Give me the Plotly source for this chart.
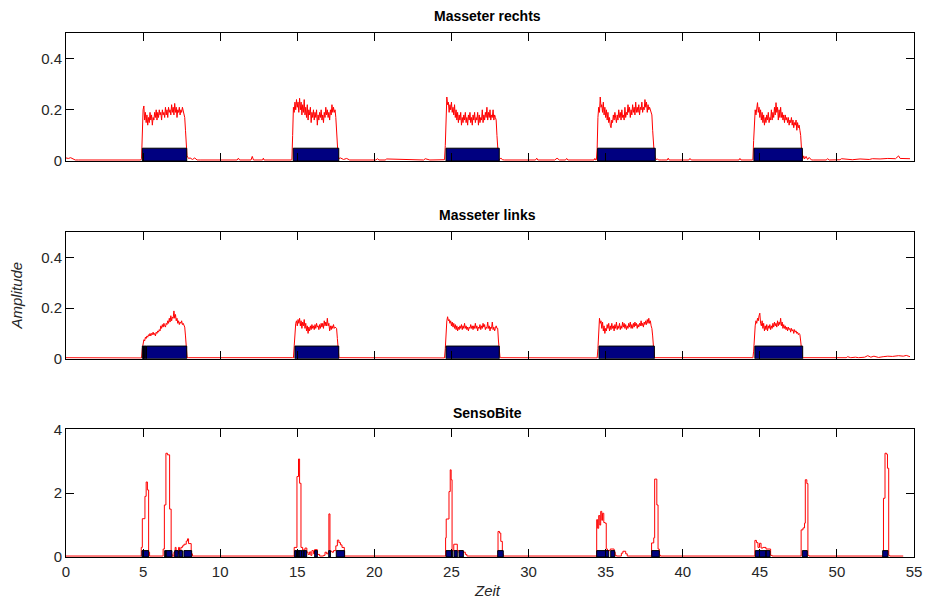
import numpy as np
import plotly.graph_objects as go

# ---------------------------------------------------------------------------
# Recorded signals (amplitude over time in seconds)
# ---------------------------------------------------------------------------
DT = 0.05  # sample spacing inside the bite bursts

# Masseter rechts: burst onsets and sampled amplitudes
rechts_burst_start = [4.90, 14.65, 24.55, 34.40, 44.55]
rechts_bursts = [
    [0.01, 0.12, 0.20, 0.215, 0.16, 0.19, 0.15, 0.18, 0.14, 0.17,
     0.15, 0.19, 0.16, 0.18, 0.14, 0.17, 0.16, 0.19, 0.17, 0.20,
     0.16, 0.19, 0.17, 0.20, 0.18, 0.19, 0.16, 0.20, 0.18, 0.19,
     0.17, 0.21, 0.18, 0.20, 0.17, 0.21, 0.19, 0.20, 0.18, 0.22,
     0.19, 0.21, 0.18, 0.225, 0.19, 0.21, 0.17, 0.20, 0.19, 0.21,
     0.18, 0.20, 0.19, 0.21, 0.20, 0.19, 0.17, 0.12, 0.06, 0.02,
     0.015, 0.01],
    [0.005, 0.10, 0.21, 0.19, 0.23, 0.20, 0.24, 0.21, 0.23, 0.19,
     0.245, 0.20, 0.23, 0.18, 0.22, 0.19, 0.24, 0.18, 0.21, 0.17,
     0.22, 0.16, 0.20, 0.18, 0.21, 0.15, 0.19, 0.17, 0.20, 0.16,
     0.19, 0.17, 0.20, 0.14, 0.18, 0.16, 0.19, 0.17, 0.20, 0.16,
     0.18, 0.15, 0.19, 0.17, 0.21, 0.18, 0.20, 0.17, 0.19, 0.16,
     0.20, 0.18, 0.22, 0.19, 0.21, 0.19, 0.20, 0.17, 0.10, 0.04,
     0.015, 0.01],
    [0.005, 0.06, 0.18, 0.25, 0.22, 0.23, 0.19, 0.22, 0.20, 0.23,
     0.19, 0.21, 0.18, 0.22, 0.17, 0.20, 0.16, 0.19, 0.15, 0.18,
     0.16, 0.19, 0.14, 0.17, 0.15, 0.18, 0.16, 0.19, 0.15, 0.17,
     0.14, 0.18, 0.16, 0.19, 0.15, 0.17, 0.14, 0.18, 0.16, 0.19,
     0.15, 0.17, 0.16, 0.19, 0.14, 0.18, 0.15, 0.17, 0.16, 0.20,
     0.15, 0.18, 0.16, 0.19, 0.17, 0.21, 0.16, 0.19, 0.17, 0.20,
     0.16, 0.18, 0.17, 0.20, 0.16, 0.18, 0.17, 0.16, 0.10, 0.04,
     0.01, 0.005],
    [0.005, 0.05, 0.17, 0.21, 0.19, 0.25, 0.21, 0.22, 0.19, 0.23,
     0.18, 0.21, 0.17, 0.20, 0.16, 0.19, 0.15, 0.17, 0.14, 0.13,
     0.16, 0.15, 0.18, 0.16, 0.19, 0.17, 0.15, 0.18, 0.16, 0.20,
     0.17, 0.19, 0.16, 0.20, 0.17, 0.18, 0.16, 0.21, 0.17, 0.19,
     0.18, 0.22, 0.19, 0.21, 0.17, 0.20, 0.18, 0.22, 0.19, 0.21,
     0.18, 0.23, 0.19, 0.21, 0.19, 0.22, 0.18, 0.21, 0.20, 0.23,
     0.19, 0.21, 0.20, 0.24, 0.21, 0.23, 0.19, 0.22, 0.20, 0.21,
     0.20, 0.20, 0.18, 0.12, 0.06, 0.03, 0.015, 0.01, 0.005],
    [0.005, 0.08, 0.17, 0.20, 0.18, 0.22, 0.228, 0.19, 0.21, 0.17,
     0.20, 0.16, 0.19, 0.15, 0.18, 0.14, 0.17, 0.15, 0.18, 0.16,
     0.19, 0.15, 0.17, 0.16, 0.20, 0.16, 0.19, 0.17, 0.21, 0.18,
     0.228, 0.19, 0.21, 0.16, 0.20, 0.17, 0.21, 0.17, 0.19, 0.16,
     0.18, 0.15, 0.18, 0.16, 0.17, 0.15, 0.17, 0.14, 0.16, 0.15,
     0.17, 0.14, 0.16, 0.13, 0.15, 0.14, 0.16, 0.12, 0.15, 0.13,
     0.14, 0.12, 0.10, 0.05, 0.02, 0.01],
]
# Masseter rechts: resting activity between bursts
rechts_rest_t = [0.0, 0.15, 0.3, 0.45, 0.6, 0.8, 4.85,
                 8.05, 8.2, 8.35, 8.5, 8.7, 11.1, 11.18, 11.26, 12.0, 12.08,
                 12.16, 12.75, 12.8, 12.85, 14.6,
                 17.8, 18.0, 18.2, 18.4, 20.1, 20.2, 20.3, 20.7, 20.8, 23.2,
                 23.3, 23.6, 24.5,
                 28.2, 28.3, 28.45, 30.45, 30.53, 30.6, 31.7, 31.85, 32.0,
                 32.4, 32.47, 32.55, 34.25, 34.3, 34.35,
                 38.35, 38.45, 38.6, 39.0, 39.06, 39.12, 40.4, 40.47, 40.55,
                 43.65, 43.71, 43.78, 44.5,
                 47.85, 47.9, 48.0, 48.1, 48.2, 48.35, 48.5, 49.3, 49.4, 49.5,
                 50.2, 50.3, 51.0, 51.5, 52.1, 52.3, 52.8, 53.3, 53.8, 54.0,
                 54.1, 54.3, 54.74]
rechts_rest_v = [0.012, 0.010, 0.013, 0.008, 0.004, 0.004, 0.004,
                 0.012, 0.006, 0.012, 0.004, 0.004, 0.004, 0.011, 0.004, 0.004, 0.018,
                 0.004, 0.004, 0.011, 0.004, 0.004,
                 0.012, 0.006, 0.010, 0.004, 0.004, 0.009, 0.004, 0.004, 0.008, 0.004,
                 0.009, 0.004, 0.004,
                 0.012, 0.005, 0.004, 0.004, 0.011, 0.004, 0.004, 0.011, 0.004,
                 0.004, 0.010, 0.004, 0.004, 0.010, 0.004,
                 0.008, 0.004, 0.004, 0.004, 0.011, 0.004, 0.004, 0.010, 0.004,
                 0.004, 0.010, 0.004, 0.004,
                 0.020, 0.008, 0.018, 0.006, 0.014, 0.004, 0.004, 0.004, 0.009, 0.004,
                 0.005, 0.009, 0.005, 0.008, 0.006, 0.009, 0.008, 0.010, 0.009, 0.020,
                 0.010, 0.009, 0.009]

# Masseter links
links_burst_start = [4.90, 14.75, 24.55, 34.45, 44.55]
links_bursts = [
    [0.003, 0.04, 0.06, 0.075, 0.07, 0.085, 0.08, 0.09, 0.085, 0.095,
     0.09, 0.10, 0.09, 0.10, 0.095, 0.105, 0.095, 0.10, 0.09, 0.105,
     0.10, 0.11, 0.105, 0.115, 0.11, 0.13, 0.12, 0.135, 0.125, 0.14,
     0.13, 0.125, 0.14, 0.135, 0.15, 0.14, 0.16, 0.145, 0.17, 0.15,
     0.165, 0.16, 0.189, 0.16, 0.175, 0.15, 0.16, 0.14, 0.15, 0.135,
     0.145, 0.14, 0.15, 0.135, 0.14, 0.13, 0.125, 0.09, 0.04, 0.01,
     0.003],
    [0.003, 0.05, 0.12, 0.14, 0.15, 0.13, 0.155, 0.14, 0.16, 0.13,
     0.15, 0.12, 0.145, 0.13, 0.155, 0.12, 0.14, 0.11, 0.13, 0.10,
     0.125, 0.11, 0.13, 0.115, 0.135, 0.12, 0.13, 0.115, 0.135, 0.12,
     0.14, 0.125, 0.13, 0.115, 0.135, 0.12, 0.14, 0.125, 0.14, 0.12,
     0.15, 0.13, 0.145, 0.13, 0.16, 0.13, 0.14, 0.11, 0.13, 0.115,
     0.13, 0.12, 0.135, 0.12, 0.125, 0.12, 0.12, 0.08, 0.03, 0.005],
    [0.003, 0.04, 0.12, 0.15, 0.166, 0.15, 0.155, 0.14, 0.15, 0.13,
     0.145, 0.125, 0.14, 0.12, 0.135, 0.115, 0.13, 0.11, 0.125, 0.115,
     0.13, 0.12, 0.135, 0.115, 0.13, 0.12, 0.14, 0.12, 0.13, 0.115,
     0.125, 0.11, 0.125, 0.12, 0.135, 0.12, 0.13, 0.115, 0.13, 0.12,
     0.14, 0.12, 0.13, 0.11, 0.125, 0.12, 0.135, 0.115, 0.13, 0.12,
     0.14, 0.125, 0.135, 0.115, 0.125, 0.12, 0.145, 0.12, 0.13, 0.11,
     0.125, 0.12, 0.145, 0.115, 0.125, 0.11, 0.12, 0.13, 0.12, 0.12,
     0.07, 0.02, 0.005],
    [0.003, 0.04, 0.12, 0.16, 0.14, 0.15, 0.12, 0.145, 0.11, 0.13,
     0.10, 0.12, 0.11, 0.135, 0.12, 0.14, 0.11, 0.13, 0.115, 0.14,
     0.12, 0.13, 0.11, 0.135, 0.12, 0.145, 0.115, 0.13, 0.12, 0.14,
     0.115, 0.13, 0.12, 0.145, 0.125, 0.14, 0.12, 0.135, 0.115, 0.13,
     0.12, 0.14, 0.125, 0.145, 0.12, 0.135, 0.12, 0.14, 0.125, 0.145,
     0.13, 0.14, 0.12, 0.135, 0.125, 0.14, 0.13, 0.15, 0.13, 0.14,
     0.125, 0.145, 0.135, 0.15, 0.135, 0.155, 0.14, 0.16, 0.14, 0.15,
     0.13, 0.12, 0.09, 0.04, 0.01, 0.003],
    [0.003, 0.03, 0.10, 0.13, 0.15, 0.14, 0.16, 0.15, 0.17, 0.18,
     0.14, 0.13, 0.15, 0.12, 0.14, 0.11, 0.13, 0.115, 0.135, 0.11,
     0.13, 0.12, 0.135, 0.115, 0.13, 0.12, 0.14, 0.125, 0.145, 0.13,
     0.14, 0.125, 0.15, 0.13, 0.145, 0.135, 0.16, 0.13, 0.145, 0.12,
     0.135, 0.12, 0.13, 0.115, 0.125, 0.11, 0.125, 0.115, 0.12, 0.105,
     0.12, 0.11, 0.115, 0.10, 0.115, 0.105, 0.11, 0.10, 0.105, 0.095,
     0.10, 0.095, 0.07, 0.03, 0.01, 0.003],
]
links_rest_t = [0.0, 4.85, 7.95, 14.7, 17.75, 24.5, 28.2, 34.4, 38.25, 44.5,
                47.85, 50.6, 50.7, 50.9, 51.2, 51.4, 51.8, 52.0, 52.2, 52.4,
                52.7, 53.0, 53.3, 53.6, 54.0, 54.3, 54.5, 54.74]
links_rest_v = [0.004, 0.004, 0.004, 0.004, 0.004, 0.004, 0.004, 0.004, 0.004, 0.004,
                0.004, 0.004, 0.008, 0.004, 0.006, 0.004, 0.006, 0.012, 0.006, 0.010,
                0.005, 0.008, 0.010, 0.009, 0.012, 0.010, 0.013, 0.008]

# SensoBite force sensor (held samples)
senso_t = [0.0, 4.88, 4.95, 5.12, 5.20, 5.28, 5.36, 5.42,
           6.30, 6.38, 6.48, 6.58, 6.72, 6.82, 6.88,
           7.00, 7.08, 7.14, 7.30, 7.36, 7.45, 7.55, 7.65, 7.80, 7.88, 7.95, 8.12, 8.20,
           14.80, 14.98, 15.08, 15.15, 15.24, 15.35, 15.50, 15.62, 15.70, 15.80,
           15.88, 15.95, 16.05, 16.12, 16.30, 16.45, 16.70, 16.80, 16.90, 17.00,
           17.05, 17.12, 17.25, 17.35, 17.50, 17.60, 17.70, 17.80, 17.90, 18.05,
           24.62, 24.66, 24.84, 24.92, 24.98, 25.04, 25.15, 25.38, 25.50, 25.60,
           25.75, 25.90, 26.00,
           28.02, 28.12, 28.20, 28.30, 28.36,
           34.42, 34.48, 34.55, 34.62, 34.68, 34.75, 34.80, 34.88, 34.96, 35.04,
           35.12, 35.30, 35.55, 35.62, 35.70, 36.02, 36.12, 36.30, 36.40,
           37.98, 38.12, 38.18, 38.32, 38.40, 38.48, 38.55,
           44.68, 44.78, 44.88, 44.98, 45.08, 45.20, 45.40, 45.70, 45.80,
           47.68, 47.80, 47.90, 47.95, 48.05, 48.12, 48.18,
           53.02, 53.12, 53.22, 53.28, 53.36, 53.42, 54.30]
senso_v = [0.03, 0.30, 1.20, 1.90, 2.35, 2.10, 0.15, 0.03,
           0.25, 1.63, 3.25, 3.20, 1.50, 0.10, 0.03,
           0.15, 0.30, 0.10, 0.30, 0.12, 0.30, 0.35, 0.40, 0.50, 0.57, 0.42, 0.10, 0.03,
           0.30, 2.52, 3.07, 2.31, 0.30, 0.22, 0.28, 0.15, 0.08, 0.16,
           0.05, 0.20, 0.10, 0.23, 0.08, 0.03, 0.05, 0.15, 0.10, 0.15,
           1.35, 0.18, 0.15, 0.20, 0.35, 0.53, 0.45, 0.38, 0.30, 0.03,
           0.60, 1.19, 2.05, 2.73, 2.42, 0.20, 0.40, 0.20, 0.12, 0.20,
           0.15, 0.08, 0.03,
           0.80, 0.75, 0.49, 0.10, 0.03,
           1.17, 0.90, 1.30, 1.00, 1.43, 1.15, 1.37, 1.08, 1.06, 0.25,
           0.20, 0.25, 0.15, 0.05, 0.03, 0.12, 0.18, 0.10, 0.03,
           0.44, 0.60, 2.44, 1.63, 0.25, 0.06, 0.03,
           0.52, 0.45, 0.30, 0.43, 0.28, 0.30, 0.25, 0.05, 0.03,
           0.85, 0.91, 1.06, 2.42, 2.30, 0.05, 0.03,
           1.84, 3.25, 3.22, 2.78, 0.05, 0.03, 0.03]

# Detected bite intervals (onset, offset) and their marker height
rechts_on = [4.95, 14.74, 24.65, 34.48, 44.62]
rechts_off = [7.83, 17.69, 28.10, 38.22, 47.76]
links_on = [4.95, 5.03, 5.12, 5.22, 14.85, 24.65, 34.57, 44.68]
links_off = [5.03, 5.12, 5.22, 7.83, 17.69, 28.10, 38.16, 47.78]
senso_on = [4.93, 6.40, 6.48, 7.05, 7.33, 7.65,
            14.83, 14.96, 15.11, 15.28, 15.43, 16.13, 17.04, 17.53,
            24.65, 25.17, 25.49, 28.00, 34.42, 35.33, 37.99,
            44.71, 45.40, 47.76, 52.97]
senso_off = [5.36, 6.48, 6.87, 7.28, 7.55, 8.15,
             14.96, 15.11, 15.28, 15.43, 15.61, 16.30, 17.15, 18.07,
             25.08, 25.38, 25.77, 28.36, 35.20, 35.59, 38.48,
             45.40, 45.66, 48.08, 53.31]
EMG_MARK = 0.05
BITE_MARK = 0.2

panel_titles = ["Masseter rechts", "Masseter links", "SensoBite"]
x_ticks = [0, 5, 10, 15, 20, 25, 30, 35, 40, 45, 50, 55]
emg_ticks = [0, 0.2, 0.4]
emg_tick_text = ["0", "0.2", "0.4"]
bite_ticks = [0, 2, 4]
bite_tick_text = ["0", "2", "4"]


def assemble(rest_t, rest_v, starts, bursts):
    """Merge resting samples and burst samples into one time-ordered series."""
    spans = [(t0, t0 + DT * (len(vals) - 1)) for t0, vals in zip(starts, bursts)]
    t, v = [], []
    for ti, vi in zip(rest_t, rest_v):
        if not any(a <= ti <= b for a, b in spans):
            t.append(ti)
            v.append(vi)
    for t0, vals in zip(starts, bursts):
        t += [t0 + DT * i for i in range(len(vals))]
        v += list(vals)
    order = np.argsort(t)
    return np.asarray(t)[order], np.asarray(v)[order]


def interval_outline(on, off, level):
    """Closed rectangles (one per interval) for a filled scatter trace."""
    xs, ys = [], []
    for a, b in zip(on, off):
        xs += [a, a, b, b, a, None]
        ys += [0, level, level, 0, 0, None]
    return xs, ys


t_r, v_r = assemble(rechts_rest_t, rechts_rest_v, rechts_burst_start, rechts_bursts)
t_l, v_l = assemble(links_rest_t, links_rest_v, links_burst_start, links_bursts)

RED = "#ff0000"
NAVY = "#000080"
FONT = "Liberation Sans, Arial, Helvetica, sans-serif"

fig = go.Figure()

panels = [
    (t_r, v_r, "linear", rechts_on, rechts_off, EMG_MARK, "x", "y"),
    (t_l, v_l, "linear", links_on, links_off, EMG_MARK, "x2", "y2"),
    (senso_t, senso_v, "hv", senso_on, senso_off, BITE_MARK, "x3", "y3"),
]
for t, v, shape, on, off, level, xa, ya in panels:
    fig.add_trace(go.Scatter(
        x=t, y=v, mode="lines", line=dict(color=RED, width=1, shape=shape),
        xaxis=xa, yaxis=ya, hoverinfo="skip"))
    bx, by = interval_outline(on, off, level)
    fig.add_trace(go.Scatter(
        x=bx, y=by, mode="lines", fill="toself", fillcolor=NAVY,
        line=dict(color="black", width=1), xaxis=xa, yaxis=ya, hoverinfo="skip"))

axis_common = dict(
    ticks="inside", ticklen=8, tickwidth=1, tickcolor="black",
    showline=True, linecolor="black", linewidth=1, mirror="ticks",
    showgrid=False, zeroline=False, automargin=False,
    tickfont=dict(family=FONT, size=15, color="#262626"),
)
x_common = dict(axis_common, range=[0, 55], tickvals=x_ticks, domain=[0, 1])

domains = [[0.7557, 1.0], [0.3784, 0.6197], [0.0, 0.2437]]

fig.update_layout(
    width=925, height=601,
    margin=dict(l=66, r=11, t=33, b=44),
    paper_bgcolor="white", plot_bgcolor="white",
    showlegend=False,
    xaxis=dict(x_common, anchor="y", showticklabels=False),
    xaxis2=dict(x_common, anchor="y2", showticklabels=False),
    xaxis3=dict(x_common, anchor="y3", ticklabelstandoff=1),
    yaxis=dict(axis_common, anchor="x", domain=domains[0], range=[0, 0.5],
               tickvals=emg_ticks, ticktext=emg_tick_text),
    yaxis2=dict(axis_common, anchor="x2", domain=domains[1], range=[0, 0.5],
                tickvals=emg_ticks, ticktext=emg_tick_text),
    yaxis3=dict(axis_common, anchor="x3", domain=domains[2], range=[0, 4],
                tickvals=bite_ticks, ticktext=bite_tick_text),
)

# Panel titles
title_y = [1.0315, 0.6527, 0.2748]
for text, yy in zip(panel_titles, title_y):
    fig.add_annotation(text="<b>%s</b>" % text, xref="paper", yref="paper",
                       x=0.497, y=yy, xanchor="center", yanchor="middle",
                       showarrow=False,
                       font=dict(family=FONT, size=14, color="black"))

# Axis labels
fig.add_annotation(text="<i>Zeit</i>", xref="paper", yref="paper",
                   x=0.4976, y=-0.063, xanchor="center", yanchor="middle",
                   showarrow=False, font=dict(family=FONT, size=15, color="#262626"))
fig.add_annotation(text="<i>Amplitude</i>", xref="paper", yref="paper",
                   x=-0.0578, y=0.499, xanchor="center", yanchor="middle",
                   textangle=-90, showarrow=False,
                   font=dict(family=FONT, size=15, color="#262626"))

fig.write_html("out.html")
